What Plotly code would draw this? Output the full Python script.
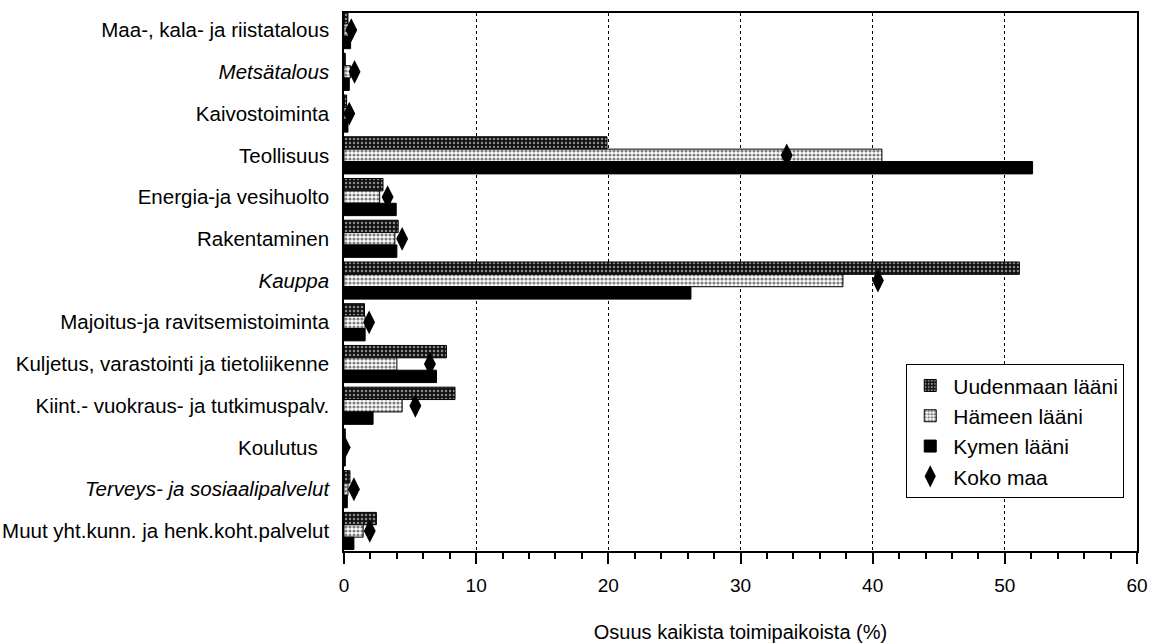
import plotly.graph_objects as go

# toimialat (ylhäältä alas)
categories = [
    "Maa-, kala- ja riistatalous",
    "Metsätalous",
    "Kaivostoiminta",
    "Teollisuus",
    "Energia-ja vesihuolto",
    "Rakentaminen",
    "Kauppa",
    "Majoitus-ja ravitsemistoiminta",
    "Kuljetus, varastointi ja tietoliikenne",
    "Kiint.- vuokraus- ja tutkimuspalv.",
    "Koulutus",
    "Terveys- ja sosiaalipalvelut",
    "Muut yht.kunn. ja henk.koht.palvelut",
]
tick_text = [
    "Maa-, kala- ja riistatalous",
    "<i>Metsätalous</i>",
    "Kaivostoiminta",
    "Teollisuus",
    "Energia-ja vesihuolto",
    "Rakentaminen",
    "<i>Kauppa</i>",
    "Majoitus-ja ravitsemistoiminta",
    "Kuljetus, varastointi ja tietoliikenne",
    "Kiint.- vuokraus- ja tutkimuspalv.",
    "Koulutus  ",
    "<i>Terveys- ja sosiaalipalvelut</i>",
    "Muut yht.kunn. ja henk.koht.palvelut",
]

uusimaa = [0.3, 0.1, 0.2, 19.9, 2.95, 4.1, 51.1, 1.55, 7.75, 8.4, 0.1, 0.45, 2.45]
hame = [0.4, 0.5, 0.2, 40.7, 2.7, 3.85, 37.75, 1.6, 4.0, 4.4, 0.1, 0.3, 1.45]
kymi = [0.5, 0.4, 0.3, 52.1, 3.95, 4.0, 26.25, 1.6, 7.0, 2.2, 0.1, 0.25, 0.75]
koko_maa = [0.55, 0.8, 0.4, 33.5, 3.3, 4.4, 40.4, 1.9, 6.5, 5.4, 0.05, 0.75, 1.95]

x_ticks = [0, 10, 20, 30, 40, 50, 60]

FONT = "Liberation Sans, Arial, Helvetica, sans-serif"

fig = go.Figure()

fig.add_trace(go.Bar(
    y=categories, x=uusimaa, orientation="h", name="Uudenmaan lääni",
    legendgroup="a",
    marker=dict(color="#111111", line=dict(color="black", width=1),
                pattern=dict(shape=".", fgcolor="white", bgcolor="#111111",
                             size=4, solidity=0.3)),
))
fig.add_trace(go.Bar(
    y=categories, x=hame, orientation="h", name="Hämeen lääni",
    legendgroup="b",
    marker=dict(color="white", line=dict(color="black", width=1),
                pattern=dict(shape=".", fgcolor="black", bgcolor="white",
                             size=4, solidity=0.5)),
))
fig.add_trace(go.Bar(
    y=categories, x=kymi, orientation="h", name="Kymen lääni",
    legendgroup="c",
    marker=dict(color="black", line=dict(color="black", width=1)),
))
fig.add_trace(go.Scatter(
    y=categories, x=koko_maa, mode="markers", name="Koko maa",
    legendgroup="d",
    marker=dict(symbol="diamond-tall", size=17, color="black"),
))

fig.update_layout(
    width=1150, height=643,
    margin=dict(l=344, r=13, t=13, b=92),
    paper_bgcolor="white", plot_bgcolor="white",
    font=dict(family=FONT, size=18, color="black"),
    barmode="group", bargap=0.11, bargroupgap=0,
    showlegend=True,
    legend=dict(
        x=0.709, y=0.347, xanchor="left", yanchor="top",
        bgcolor="white", bordercolor="black", borderwidth=1,
        font=dict(size=21), traceorder="grouped", tracegroupgap=0,
        itemwidth=36,
    ),
)

fig.update_xaxes(
    range=[0, 60], tickvals=x_ticks, ticks="outside", ticklen=11,
    tickwidth=1.5, tickcolor="black", showline=True, linecolor="black",
    linewidth=1.5, mirror=True, showgrid=True, gridcolor="black",
    griddash="dot", gridwidth=1.2, zeroline=False, automargin=False,
    minor=dict(dtick=2, ticks="outside", ticklen=6, tickcolor="black",
               showgrid=False),
    tickfont=dict(size=19), ticklabelstandoff=5,
    title=dict(text="Osuus kaikista toimipaikoista (%)", standoff=30,
               font=dict(size=20)),
)
fig.update_yaxes(
    categoryorder="array", categoryarray=categories,
    tickvals=categories, ticktext=tick_text,
    range=[12.48, -0.41], showline=True, linecolor="black", linewidth=1.5,
    mirror=True, showgrid=False, ticks="", ticklabelstandoff=9,
    automargin=False, tickfont=dict(size=20.5),
)

# drop the default page margin so the figure sits at the window's corner
fig.write_html(
    "out.html",
    config={"displayModeBar": False},
    post_script="document.body.style.margin='0';"
                "document.body.style.overflow='hidden';",
)
